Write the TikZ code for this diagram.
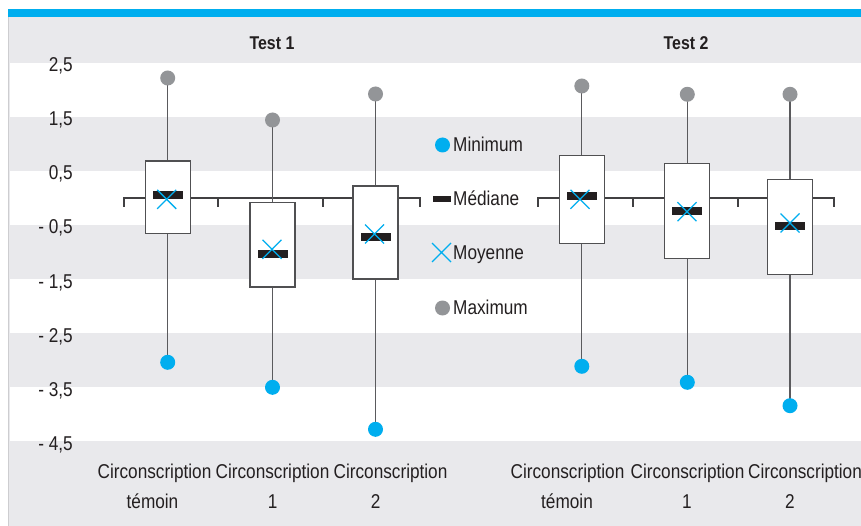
\documentclass[tikz,border=0pt]{standalone}
\usepackage{fontspec}
\setmainfont{Liberation Sans}[FakeStretch=0.86]
\definecolor{bandgray}{RGB}{233,233,236}
\definecolor{edgegray}{RGB}{205,205,208}
\definecolor{cyanblue}{RGB}{0,174,239}
\definecolor{dotgray}{RGB}{147,149,152}
\definecolor{inkdark}{RGB}{35,31,32}
\definecolor{boxline}{RGB}{80,80,82}
\definecolor{whiskgray}{RGB}{90,90,93}
\definecolor{axisdark}{RGB}{65,64,66}

\tikzset{
  lbl/.style={font=\fontsize{20}{23}\selectfont, text=inkdark, inner sep=0pt},
  ttl/.style={font=\fontsize{18.5}{21}\selectfont\bfseries, text=inkdark, inner sep=0pt},
  boxbody/.style={draw=boxline, line width=1.3pt, fill=white},
  medbar/.style={fill=inkdark, draw=none},
  meanx/.style={draw=cyanblue, line width=1.3pt},
  mindot/.style={circle, fill=cyanblue, draw=none, minimum size=15pt, inner sep=0pt},
  maxdot/.style={circle, fill=dotgray, draw=none, minimum size=15pt, inner sep=0pt},
  axisline/.style={draw=axisdark, line width=1.2pt},
}

% box plot: #1 centre x, #2 box top, #3 box bottom, #4 median y,
% #5 mean x, #6 mean y, #7 max y, #8 min y, #9 name suffix
\newcommand{\bxplot}[9]{%
  \coordinate (top#9) at (#1,#7);
  \coordinate (bot#9) at (#1,#8);
  \draw[whiskgray, line width=1.3pt] (top#9) -- (bot#9);
  \draw[boxbody] (#1-22.5,#2) rectangle (#1+22.5,#3);
  \fill[medbar] (#1-15,#4-4) rectangle (#1+15,#4+4);
  \draw[meanx] (#5-9.5,#6-9.5) -- (#5+9.5,#6+9.5)
               (#5-9.5,#6+9.5) -- (#5+9.5,#6-9.5);
  \node[maxdot] (mx#9) at (top#9) {};
  \node[mindot] (mn#9) at (bot#9) {};
}

\begin{document}
\begin{tikzpicture}[x=1pt, y=-1pt]
  \useasboundingbox (0,0) rectangle (861,526);
  % page background, panel and top rule
  \fill[white] (0,0) rectangle (861,526);
  \fill[bandgray] (8,17) rectangle (861,526);
  \draw[edgegray, line width=1pt] (8.5,17) -- (8.5,526);
  \fill[cyanblue] (8,9) rectangle (861,17);
  % alternating white bands of the value grid
  \foreach \a/\b in {63/117, 171/225, 279/333, 387/441}
    \fill[white] (10,\a) rectangle (861,\b);

  % value axis labels
  \foreach \t [count=\i from 0] in {{2,5}, {1,5}, {0,5}, {- 0,5}, {- 1,5}, {- 2,5}, {- 3,5}, {- 4,5}}
    \node[lbl, anchor=base east] at (73, 72+54*\i) {\t};

  % panel titles
  \node[ttl, anchor=base] (t1) at (272, 49.5) {Test 1};
  \node[ttl, anchor=base] (t2) at (686, 49.5) {Test 2};

  % category axes with tick marks
  \draw[axisline] (124,207) -- (124,198) -- (420,198) -- (420,207);
  \foreach \x in {218, 323} \draw[axisline] (\x,198) -- (\x,207);
  \draw[axisline] (538,207) -- (538,198) -- (834,198) -- (834,207);
  \foreach \x in {633, 738} \draw[axisline] (\x,198) -- (\x,207);

  % Test 1
  \bxplot{167.7}{161}{233.3}{195}{166.7}{199.3}{78}{362.3}{a}
  \bxplot{272.5}{202.3}{287}{254}{272}{249.3}{120}{387.3}{b}
  \bxplot{375.5}{186}{279}{237}{374.5}{234}{94}{429.3}{c}
  % Test 2
  \bxplot{581.8}{155.3}{243.7}{196}{580}{199.3}{86}{366.3}{d}
  \bxplot{687.3}{163.3}{258.3}{211}{687}{211.7}{94.3}{382.3}{e}
  \bxplot{790}{179.7}{274.3}{226}{790}{223}{94.3}{405.7}{f}

  % legend
  \node[mindot] (lg1) at (442.5,145) {};
  \fill[medbar] (433,196) rectangle (451,202);
  \draw[meanx] (432,243) -- (451,262) (432,262) -- (451,243);
  \node[maxdot] (lg4) at (442.5,308) {};
  \node[lbl, anchor=base west] at (453,152) {Minimum};
  \node[lbl, anchor=base west] at (453,206) {Médiane};
  \node[lbl, anchor=base west] at (453,260) {Moyenne};
  \node[lbl, anchor=base west] at (453,314) {Maximum};

  % category labels
  \foreach \x in {154.5, 272.5, 390.5, 567.5, 687.5, 805}
    \node[lbl, anchor=base] at (\x,478) {Circonscription};
  \foreach \x/\t in {152.5/témoin, 272.7/1, 375.7/2, 567/témoin, 687/1, 790/2}
    \node[lbl, anchor=base] at (\x,508) {\t};
\end{tikzpicture}
\end{document}
